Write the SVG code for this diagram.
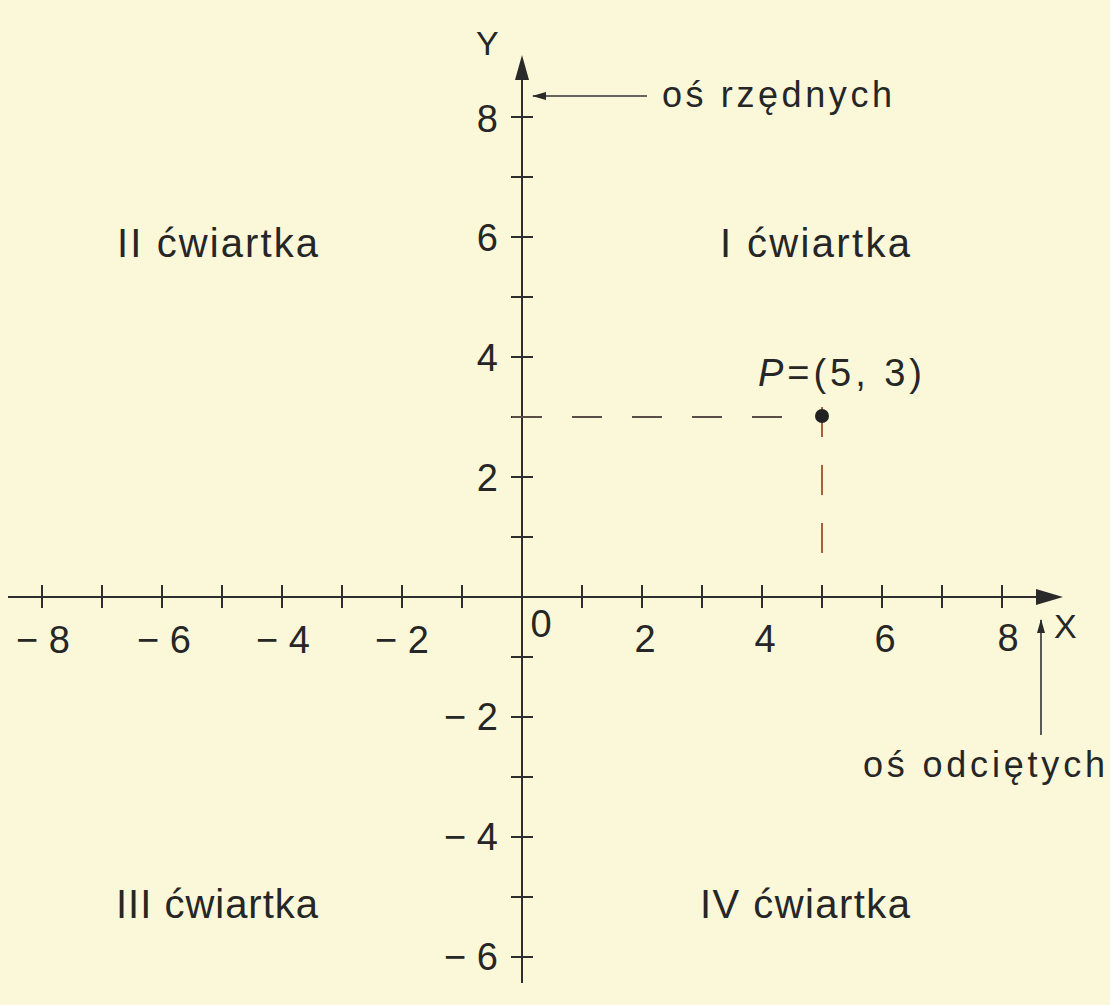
<svg xmlns="http://www.w3.org/2000/svg" width="1110" height="1005" viewBox="0 0 1110 1005">
<defs>
<style>
.ax{stroke:#2e2e2e;stroke-width:2;fill:none}
.tk{stroke:#2e2e2e;stroke-width:2}
.lbl{font-family:"Liberation Sans",Arial,sans-serif;fill:#262626}
.num{font-size:38px}
.q{font-size:40px}
.note{font-size:36px}
.ptr{stroke:#333;stroke-width:1.6;fill:none}
</style>
<marker id="ah" markerWidth="14" markerHeight="10" refX="13" refY="5" orient="auto" markerUnits="userSpaceOnUse">
<path d="M0,1 L14,5 L0,9 Z" fill="#2a2a2a"/>
</marker>
</defs>
<rect width="1110" height="1005" fill="#fbf8da"/>

<g id="axes">
<path class="ax" d="M8,597 H1040"/>
<path d="M1063,597 L1036,589 L1036,605 Z" fill="#2a2a2a"/>
<path class="ax" d="M522,983 V76"/>
<path d="M522,55 L515,80 L529,80 Z" fill="#2a2a2a"/>
</g>

<g id="x-ticks" class="tk">
<line x1="42" y1="585" x2="42" y2="608"/>
<line x1="102" y1="585" x2="102" y2="608"/>
<line x1="162" y1="585" x2="162" y2="608"/>
<line x1="222" y1="585" x2="222" y2="608"/>
<line x1="282" y1="585" x2="282" y2="608"/>
<line x1="342" y1="585" x2="342" y2="608"/>
<line x1="402" y1="585" x2="402" y2="608"/>
<line x1="462" y1="585" x2="462" y2="608"/>
<line x1="582" y1="585" x2="582" y2="608"/>
<line x1="642" y1="585" x2="642" y2="608"/>
<line x1="702" y1="585" x2="702" y2="608"/>
<line x1="762" y1="585" x2="762" y2="608"/>
<line x1="822" y1="585" x2="822" y2="608"/>
<line x1="882" y1="585" x2="882" y2="608"/>
<line x1="942" y1="585" x2="942" y2="608"/>
<line x1="1002" y1="585" x2="1002" y2="608"/>
</g>

<g id="y-ticks" class="tk">
<line x1="511" y1="117" x2="533" y2="117"/>
<line x1="511" y1="177" x2="533" y2="177"/>
<line x1="511" y1="237" x2="533" y2="237"/>
<line x1="511" y1="297" x2="533" y2="297"/>
<line x1="511" y1="357" x2="533" y2="357"/>
<line x1="511" y1="417" x2="533" y2="417"/>
<line x1="511" y1="477" x2="533" y2="477"/>
<line x1="511" y1="537" x2="533" y2="537"/>
<line x1="511" y1="657" x2="533" y2="657"/>
<line x1="511" y1="717" x2="533" y2="717"/>
<line x1="511" y1="777" x2="533" y2="777"/>
<line x1="511" y1="837" x2="533" y2="837"/>
<line x1="511" y1="897" x2="533" y2="897"/>
<line x1="511" y1="957" x2="533" y2="957"/>
</g>

<g id="x-labels" class="lbl num">
<text x="43" y="653" text-anchor="middle">− 8</text>
<text x="164" y="653" text-anchor="middle">− 6</text>
<text x="283" y="653" text-anchor="middle">− 4</text>
<text x="402" y="653" text-anchor="middle">− 2</text>
<text x="541" y="637" text-anchor="middle">0</text>
<text x="645" y="652" text-anchor="middle">2</text>
<text x="765" y="652" text-anchor="middle">4</text>
<text x="885" y="652" text-anchor="middle">6</text>
<text x="1008" y="651" text-anchor="middle">8</text>
</g>

<g id="y-labels" class="lbl num" text-anchor="end">
<text x="498" y="132">8</text>
<text x="498" y="251">6</text>
<text x="498" y="371">4</text>
<text x="498" y="491">2</text>
<text x="498" y="730">− 2</text>
<text x="498" y="850">− 4</text>
<text x="498" y="970">− 6</text>
</g>

<g id="axis-names" class="lbl" font-size="34">
<text x="476" y="55">Y</text>
<text x="1054" y="638">X</text>
</g>

<g id="quadrants" class="lbl q">
<text id="q2" x="117" y="257" textLength="201" lengthAdjust="spacing">II ćwiartka</text>
<text id="q1" x="720" y="257" textLength="190" lengthAdjust="spacing">I ćwiartka</text>
<text id="q3" x="116" y="918" textLength="202" lengthAdjust="spacing">III ćwiartka</text>
<text id="q4" x="700" y="918" textLength="210" lengthAdjust="spacing">IV ćwiartka</text>
</g>

<g id="point-P">
<line x1="512" y1="417" x2="782" y2="417" stroke="#5a4c46" stroke-width="2" stroke-dasharray="30 30"/>
<line x1="822" y1="407" x2="822" y2="555" stroke="#a3613e" stroke-width="2" stroke-dasharray="30 28"/>
<circle cx="822" cy="416" r="7" fill="#222"/>
<text class="lbl" font-size="38" x="758" y="386" textLength="164" lengthAdjust="spacing"><tspan font-style="italic">P</tspan>=(5, 3)</text>
</g>

<g id="connectors">
<line class="ptr" x1="647" y1="96" x2="533" y2="96" marker-end="url(#ah)"/>
<line class="ptr" x1="1041" y1="735" x2="1041" y2="620" marker-end="url(#ah)"/>
</g>

<g id="axis-notes" class="lbl note">
<text x="662" y="107" textLength="230" lengthAdjust="spacing">oś rzędnych</text>
<text x="863" y="777" textLength="242" lengthAdjust="spacing">oś odciętych</text>
</g>
</svg>
